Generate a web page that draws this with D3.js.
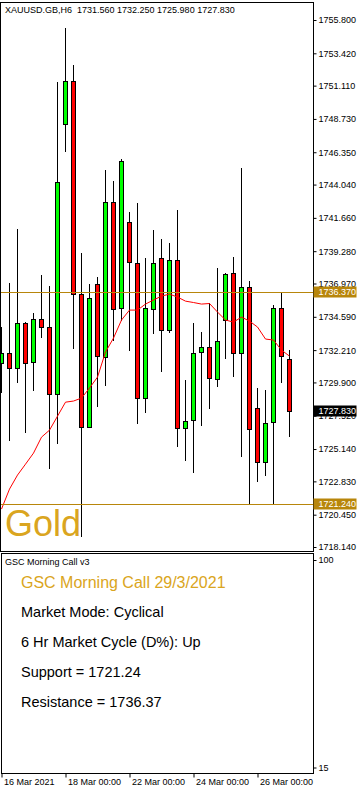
<!DOCTYPE html>
<html>
<head>
<meta charset="utf-8">
<script src="https://cdn.jsdelivr.net/npm/d3@7"></script>
<style>
  body { margin: 0; background: #fff; }
  svg { display: block; font-family: "Liberation Sans", Arial, sans-serif; }
</style>
</head>
<body>
<div id="chart"></div>
<script>
// XAUUSD H6 candles, 16 Mar 2021 00:00 .. 29 Mar 2021 00:00
const symbol = 'XAUUSD.GB,H6';
const opens  = [1731.26, 1731.98, 1730.90, 1734.12, 1731.33, 1734.41, 1733.83, 1729.04, 1748.34, 1751.46, 1736.19, 1726.69, 1736.91, 1731.73, 1742.81, 1735.19, 1741.34, 1738.41, 1728.76, 1735.12, 1738.77, 1733.64, 1738.64, 1726.61, 1727.21, 1732.05, 1732.45, 1730.12, 1734.36, 1737.69, 1731.98, 1736.69, 1728.04, 1724.18, 1727.04, 1735.19, 1731.56];
const highs  = [1733.88, 1736.98, 1740.86, 1734.23, 1734.83, 1737.57, 1736.79, 1751.39, 1755.21, 1752.58, 1739.12, 1736.93, 1737.45, 1745.08, 1744.29, 1745.84, 1742.10, 1742.74, 1738.81, 1740.79, 1740.15, 1739.88, 1742.22, 1730.07, 1734.16, 1733.50, 1735.55, 1738.09, 1737.69, 1738.88, 1745.24, 1737.14, 1729.52, 1729.35, 1735.43, 1736.37, 1732.25];
const lows   = [1729.16, 1725.73, 1729.87, 1726.30, 1729.30, 1733.09, 1723.73, 1725.47, 1746.39, 1732.28, 1718.87, 1726.61, 1728.16, 1729.66, 1732.88, 1734.31, 1732.14, 1726.92, 1727.73, 1733.33, 1730.66, 1733.45, 1725.30, 1724.30, 1723.40, 1726.80, 1727.97, 1729.59, 1731.55, 1730.30, 1724.58, 1721.24, 1722.80, 1723.23, 1721.24, 1729.87, 1725.98];
const closes = [1731.98, 1730.90, 1734.12, 1731.26, 1734.41, 1733.83, 1729.04, 1744.24, 1751.46, 1736.19, 1726.69, 1735.91, 1731.80, 1742.81, 1735.12, 1745.70, 1738.48, 1728.76, 1735.19, 1738.41, 1733.64, 1738.64, 1726.61, 1727.14, 1731.98, 1732.40, 1730.19, 1732.88, 1737.62, 1731.98, 1736.69, 1726.54, 1724.18, 1726.97, 1735.19, 1731.80, 1727.83];
// moving average (red line)
const maValues = [1720.85, 1722.28, 1723.28, 1724.06, 1724.85, 1725.99, 1726.49, 1727.49, 1728.49, 1728.57, 1728.78, 1729.50, 1730.28, 1732.07, 1733.07, 1734.36, 1735.07, 1735.07, 1735.50, 1735.79, 1736.07, 1736.21, 1736.00, 1735.71, 1735.61, 1735.50, 1735.54, 1734.93, 1734.36, 1734.21, 1734.57, 1734.28, 1733.86, 1733.00, 1732.93, 1732.21, 1731.78];

const priceTicks = [1755.800, 1753.420, 1751.110, 1748.730, 1746.350, 1744.040, 1741.660, 1739.280, 1736.970, 1734.590, 1732.210, 1729.900, 1727.520, 1725.140, 1722.830, 1720.450, 1718.140];
const timeTickIndex = [0, 8, 16, 24, 32];
const timeTickLabels = ['16 Mar 2021', '18 Mar 00:00', '22 Mar 00:00', '24 Mar 00:00', '26 Mar 00:00'];
const resistance = 1736.37;
const support = 1721.24;
const indicatorTicks = [100, 15];

const panelTitle = 'GSC Morning Call v3';
const headline = 'GSC Morning Call 29/3/2021';
const infoLines = ['Market Mode: Cyclical', '6 Hr Market Cycle (D%): Up', 'Support = 1721.24', 'Resistance = 1736.37'];

const W = 362, H = 792;
const plotRight = 313.5;
const GOLD = '#daa520', DARKGOLD = '#b8860b';

const svg = d3.select('#chart').append('svg')
  .attr('width', W)
  .attr('height', H);

// scales
const x = d3.scaleLinear().domain([0, 36]).range([1.5, 289.5]);
const y = d3.scaleLinear().domain([1718.14, 1755.8]).range([547, 20]);
const yInd = d3.scaleLinear().domain([15, 100]).range([767.5, 560]);

// clip for main plot
svg.append('clipPath').attr('id', 'clip')
  .append('rect').attr('x', 1).attr('y', 3).attr('width', 312).attr('height', 548);

const plot = svg.append('g').attr('clip-path', 'url(#clip)');

const candles = opens.map((o, i) => ({ i, o, h: highs[i], l: lows[i], c: closes[i] }));

// wicks
plot.selectAll('.wick')
  .data(candles)
  .enter()
  .append('line')
  .attr('class', 'wick')
  .attr('x1', d => x(d.i))
  .attr('x2', d => x(d.i))
  .attr('y1', d => Math.round(y(d.h)))
  .attr('y2', d => Math.round(y(d.l)))
  .attr('stroke', '#000')
  .attr('stroke-width', 1);

// bodies
plot.selectAll('.body')
  .data(candles)
  .enter()
  .append('rect')
  .attr('class', 'body')
  .attr('x', d => x(d.i) - 2)
  .attr('y', d => Math.round(y(Math.max(d.o, d.c))) + 0.5)
  .attr('width', 4)
  .attr('height', d => Math.max(0, Math.round(y(Math.min(d.o, d.c))) - Math.round(y(Math.max(d.o, d.c)))))
  .attr('fill', d => d.c >= d.o ? '#00ff00' : '#ff0000')
  .attr('stroke', '#000')
  .attr('stroke-width', 1);

// moving average
plot.append('path')
  .datum(maValues)
  .attr('fill', 'none')
  .attr('stroke', '#ff0000')
  .attr('stroke-width', 1)
  .attr('d', d3.line().x((d, i) => x(i)).y(d => y(d)));

// resistance / support lines
plot.selectAll('.level')
  .data([resistance, support])
  .enter()
  .append('line')
  .attr('class', 'level')
  .attr('x1', 0)
  .attr('x2', plotRight)
  .attr('y1', d => Math.round(y(d)) + 0.5)
  .attr('y2', d => Math.round(y(d)) + 0.5)
  .attr('stroke', DARKGOLD)
  .attr('stroke-width', 1);

// "Gold" label
svg.append('text')
  .attr('x', 5)
  .attr('y', 536)
  .attr('font-size', 36)
  .attr('fill', GOLD)
  .text('Gold');

// title line
svg.append('text')
  .attr('x', 5)
  .attr('y', 10)
  .attr('dy', '0.35em')
  .attr('font-size', 9)
  .attr('xml:space', 'preserve')
  .style('white-space', 'pre')
  .text(`${symbol}  ${[opens[36], highs[36], lows[36], closes[36]].map(d3.format('.3f')).join(' ')}`);

// frames
svg.append('rect')
  .attr('x', 0.5).attr('y', 2.5)
  .attr('width', plotRight - 0.5).attr('height', 549)
  .attr('fill', 'none').attr('stroke', '#000');
svg.append('rect')
  .attr('x', 1.5).attr('y', 553.5)
  .attr('width', plotRight - 1.5).attr('height', 220)
  .attr('fill', 'none').attr('stroke', '#000');

// price axis
const yAxis = d3.axisRight(y)
  .tickValues(priceTicks)
  .tickFormat(d3.format('.3f'))
  .tickSize(3)
  .tickPadding(2);
const yAxisG = svg.append('g')
  .attr('transform', `translate(${plotRight},0)`)
  .call(yAxis);
yAxisG.select('.domain').remove();
yAxisG.selectAll('text')
  .attr('font-family', '"Liberation Sans", Arial, sans-serif')
  .attr('font-size', 9)
  .attr('fill', '#000');

// price boxes
const boxes = [
  { v: resistance, fill: DARKGOLD },
  { v: support, fill: DARKGOLD },
  { v: closes[36], fill: '#000' }
];
const boxG = svg.selectAll('.pbox')
  .data(boxes)
  .enter()
  .append('g')
  .attr('class', 'pbox')
  .attr('transform', d => `translate(${plotRight},${Math.round(y(d.v))})`);
boxG.append('rect')
  .attr('x', 0)
  .attr('y', -5.5)
  .attr('width', 43)
  .attr('height', 11)
  .attr('fill', d => d.fill);
boxG.append('text')
  .attr('x', 5)
  .attr('dy', '0.35em')
  .attr('font-size', 9)
  .attr('fill', '#fff')
  .text(d => d3.format('.3f')(d.v));

// indicator panel axis
const indAxis = d3.axisRight(yInd)
  .tickValues(indicatorTicks)
  .tickFormat(d3.format('d'))
  .tickSize(3)
  .tickPadding(2);
const indG = svg.append('g')
  .attr('transform', `translate(${plotRight},0)`)
  .call(indAxis);
indG.select('.domain').remove();
indG.selectAll('text')
  .attr('font-family', '"Liberation Sans", Arial, sans-serif')
  .attr('font-size', 9)
  .attr('fill', '#000');

// indicator panel text
svg.append('text')
  .attr('x', 5)
  .attr('y', 562)
  .attr('dy', '0.35em')
  .attr('font-size', 9)
  .text(panelTitle);

svg.append('text')
  .attr('x', 21)
  .attr('y', 588)
  .attr('font-size', 16)
  .attr('fill', GOLD)
  .text(headline);

svg.selectAll('.info')
  .data(infoLines)
  .enter()
  .append('text')
  .attr('class', 'info')
  .attr('x', 21)
  .attr('y', (d, i) => 617 + i * 30)
  .attr('font-size', 14.5)
  .attr('fill', '#000')
  .text(d => d);

// time axis
const xAxis = d3.axisBottom(x)
  .tickValues(timeTickIndex)
  .tickFormat((d, i) => timeTickLabels[i])
  .tickSize(4)
  .tickPadding(1);
const xAxisG = svg.append('g')
  .attr('transform', 'translate(0,773.5)')
  .call(xAxis);
xAxisG.select('.domain').remove();
xAxisG.selectAll('text')
  .attr('font-family', '"Liberation Sans", Arial, sans-serif')
  .attr('font-size', 9)
  .attr('fill', '#000')
  .attr('text-anchor', 'start')
  .attr('dx', 2);
</script>
</body>
</html>
